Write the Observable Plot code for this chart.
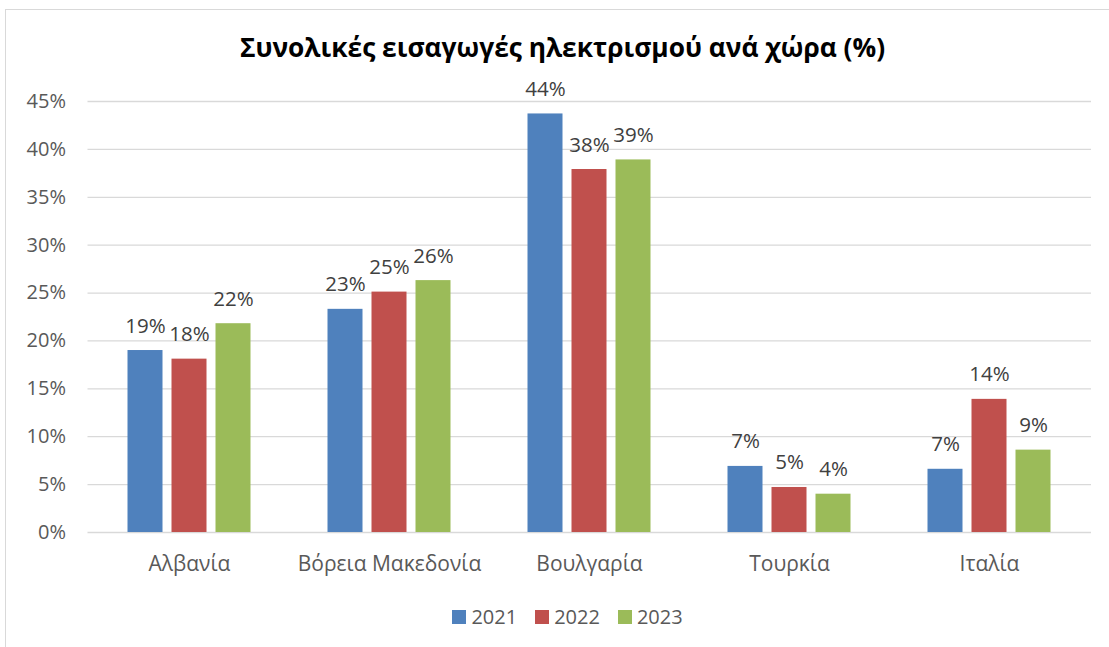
<!DOCTYPE html>
<html>
<head>
<meta charset="utf-8">
<script src="https://cdn.jsdelivr.net/npm/d3@7"></script>
<script src="https://cdn.jsdelivr.net/npm/@observablehq/plot@0.6"></script>
<style>
  html, body { margin: 0; padding: 0; background: #fff; }
  #wrap { position: relative; width: 1109px; height: 647px; overflow: hidden; font-family: "Open Sans", sans-serif; }
  #frame { position: absolute; left: 5px; top: 9px; width: 1200px; height: 700px; border: 1px solid #d9d9d9; box-sizing: border-box; }
  #title { position: absolute; left: 0; width: 1125px; top: 29px; text-align: center; font-weight: 700; font-size: 26.3px; color: #000; white-space: nowrap; }
  #grid, #chart { position: absolute; left: 0; top: 0; }
  #legend { position: absolute; left: 0; width: 1135px; top: 603px; display: flex; justify-content: center; align-items: center; font-size: 20px; color: #595959; }
  .item { display: flex; align-items: center; margin: 0 9px; }
  .sw { width: 14px; height: 14px; margin-right: 5px; }
</style>
</head>
<body>
<div id="wrap">
  <div id="frame"></div>
  <div id="grid"></div>
  <div id="chart"></div>
  <div id="title">Συνολικές εισαγωγές ηλεκτρισμού ανά χώρα (%)</div>
  <div id="legend"></div>
</div>
<script>
const countries = ["Αλβανία", "Βόρεια Μακεδονία", "Βουλγαρία", "Τουρκία", "Ιταλία"];
const years = ["2021", "2022", "2023"];
const values2021 = [19.0, 23.3, 43.7, 6.9, 6.6];
const values2022 = [18.1, 25.1, 37.9, 4.7, 13.9];
const values2023 = [21.8, 26.3, 38.9, 4.0, 8.6];
const yTicks = [0, 5, 10, 15, 20, 25, 30, 35, 40, 45];
const colors = ["#4F81BD", "#C0504D", "#9BBB59"];

const series = [values2021, values2022, values2023];
const data = countries.flatMap((c, i) => years.map((y, j) => ({country: c, year: y, value: series[j][i]})));

const common = {
  width: 1109,
  height: 647,
  marginTop: 101,
  marginBottom: 115,
  marginLeft: 87.5,
  marginRight: 18,
  style: {fontFamily: "Open Sans", fontSize: "20px", color: "#595959", background: "transparent", overflow: "visible"}
};

const grid = Plot.plot({
  ...common,
  y: {domain: [0, 45], label: null},
  marks: [
    Plot.ruleY(yTicks, {stroke: "#d9d9d9", strokeWidth: 1.3}),
    Plot.axisY(yTicks, {tickSize: 0, tickPadding: 22, tickFormat: d => d + "%", label: null, fill: "#595959", fontSize: 20})
  ]
});
document.getElementById("grid").appendChild(grid);

const chart = Plot.plot({
  ...common,
  fx: {domain: countries, paddingInner: 0.382, paddingOuter: 0.191, label: null},
  x: {domain: years, paddingInner: 0.215, paddingOuter: 0, axis: null},
  y: {domain: [0, 45], label: null, axis: null},
  color: {domain: years, range: colors},
  marks: [
    Plot.axisFx({anchor: "bottom", tickSize: 0, tickPadding: 24, label: null, fill: "#595959", fontSize: 21}),
    Plot.barY(data, {fx: "country", x: "year", y: "value", fill: "year"}),
    Plot.text(data, {fx: "country", x: "year", y: "value", text: d => Math.round(d.value) + "%", lineAnchor: "bottom", dy: -18, fill: "#404040", fontSize: 20.5})
  ]
});
document.getElementById("chart").appendChild(chart);

const legend = document.getElementById("legend");
years.forEach((y, i) => {
  const item = document.createElement("div");
  item.className = "item";
  const sw = document.createElement("div");
  sw.className = "sw";
  sw.style.background = colors[i];
  const t = document.createElement("span");
  t.textContent = y;
  item.appendChild(sw);
  item.appendChild(t);
  legend.appendChild(item);
});
</script>
</body>
</html>
